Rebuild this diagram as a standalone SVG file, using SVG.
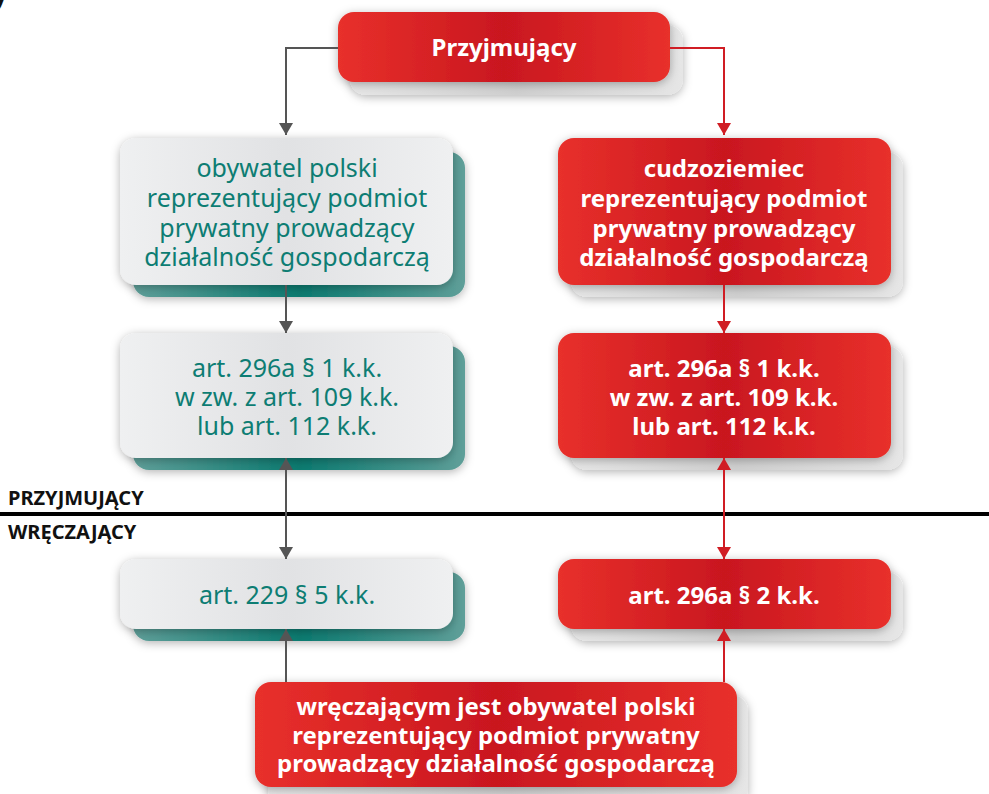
<svg xmlns="http://www.w3.org/2000/svg" width="989" height="794" viewBox="0 0 989 794">
<defs>
<linearGradient id="red" x1="0" y1="0" x2="1" y2="0">
<stop offset="0" stop-color="#e8302b"/><stop offset="0.5" stop-color="#c9171f"/><stop offset="1" stop-color="#e8302b"/>
</linearGradient>
<linearGradient id="grey" x1="0" y1="0" x2="1" y2="0">
<stop offset="0" stop-color="#eff0f1"/><stop offset="0.5" stop-color="#e1e2e4"/><stop offset="1" stop-color="#eff0f1"/>
</linearGradient>
<linearGradient id="teal" x1="0" y1="0" x2="1" y2="0">
<stop offset="0" stop-color="#5f9f99"/><stop offset="0.5" stop-color="#0b7a70"/><stop offset="1" stop-color="#5f9f99"/>
</linearGradient>
<linearGradient id="shadowgrey" x1="0" y1="0" x2="1" y2="0">
<stop offset="0" stop-color="#e6e6e6"/><stop offset="0.5" stop-color="#cfcfcf"/><stop offset="1" stop-color="#e6e6e6"/>
</linearGradient>
<filter id="ds" x="-20%" y="-30%" width="140%" height="160%">
<feDropShadow dx="0" dy="2" stdDeviation="5" flood-color="#000" flood-opacity="0.3"/>
</filter>
<marker id="ag" viewBox="0 0 12 14" refX="12" refY="7" markerWidth="12" markerHeight="14" markerUnits="userSpaceOnUse" orient="auto-start-reverse">
<path d="M0,0 L12,7 L0,14 Z" fill="#555"/>
</marker>
<marker id="ar" viewBox="0 0 12 14" refX="12" refY="7" markerWidth="12" markerHeight="14" markerUnits="userSpaceOnUse" orient="auto-start-reverse">
<path d="M0,0 L12,7 L0,14 Z" fill="#d01d24"/>
</marker>
</defs>
<style>
.t{font-family:"Noto Sans","Open Sans","Liberation Sans",sans-serif;text-anchor:middle;}
.tl{fill:#0d7d73;font-size:25px;}
.tr{fill:#fff;font-size:24px;font-weight:bold;}
.lab{font-family:"Noto Sans","Liberation Sans",sans-serif;font-weight:bold;font-size:20px;fill:#111;}
.cg{stroke:#555;stroke-width:2;fill:none;}
.cr{stroke:#d01d24;stroke-width:2;fill:none;}
</style>
<rect width="989" height="794" fill="#fff"/>
<text x="-12" y="3" class="lab" style="font-size:40px">y</text>

<g id="divider">
<line x1="0" y1="514" x2="989" y2="514" stroke="#000" stroke-width="4"/>
<text x="8" y="505" class="lab">PRZYJMUJĄCY</text>
<text x="8" y="539" class="lab">WRĘCZAJĄCY</text>
</g>

<g id="przyjmujacy">
<rect x="350" y="25" width="333" height="70" rx="16" fill="url(#shadowgrey)" filter="url(#ds)"/>
<rect x="338" y="12" width="332" height="70" rx="16" fill="url(#red)" filter="url(#ds)"/>
<text x="504" y="56" class="t tr">Przyjmujący</text>
</g>

<g id="obywatel">
<rect x="133" y="152" width="332" height="145" rx="16" fill="url(#teal)" filter="url(#ds)"/>
<rect x="120" y="138" width="333" height="147" rx="16" fill="url(#grey)" filter="url(#ds)"/>
<text class="t tl"><tspan x="287" y="177">obywatel polski</tspan><tspan x="287" y="207">reprezentujący podmiot</tspan><tspan x="287" y="237">prywatny prowadzący</tspan><tspan x="287" y="266">działalność gospodarczą</tspan></text>
</g>

<g id="cudzoziemiec">
<rect x="571" y="152" width="332" height="145" rx="16" fill="url(#shadowgrey)" filter="url(#ds)"/>
<rect x="558" y="138" width="333" height="147" rx="16" fill="url(#red)" filter="url(#ds)"/>
<text class="t tr"><tspan x="724" y="177">cudzoziemiec</tspan><tspan x="724" y="207">reprezentujący podmiot</tspan><tspan x="724" y="237">prywatny prowadzący</tspan><tspan x="724" y="266">działalność gospodarczą</tspan></text>
</g>

<g id="art296a1-left">
<rect x="133" y="346" width="332" height="124" rx="16" fill="url(#teal)" filter="url(#ds)"/>
<rect x="120" y="333" width="333" height="125" rx="16" fill="url(#grey)" filter="url(#ds)"/>
<text class="t tl"><tspan x="287" y="377">art. 296a § 1 k.k.</tspan><tspan x="287" y="406">w zw. z art. 109 k.k.</tspan><tspan x="287" y="435">lub art. 112 k.k.</tspan></text>
</g>

<g id="art296a1-right">
<rect x="571" y="346" width="332" height="124" rx="16" fill="url(#shadowgrey)" filter="url(#ds)"/>
<rect x="558" y="333" width="333" height="125" rx="16" fill="url(#red)" filter="url(#ds)"/>
<text class="t tr"><tspan x="724" y="377">art. 296a § 1 k.k.</tspan><tspan x="724" y="406">w zw. z art. 109 k.k.</tspan><tspan x="724" y="435">lub art. 112 k.k.</tspan></text>
</g>

<g id="art229">
<rect x="133" y="572" width="332" height="69" rx="16" fill="url(#teal)" filter="url(#ds)"/>
<rect x="120" y="559" width="333" height="70" rx="16" fill="url(#grey)" filter="url(#ds)"/>
<text x="287" y="604" class="t tl">art. 229 § 5 k.k.</text>
</g>

<g id="art296a2">
<rect x="571" y="572" width="332" height="69" rx="16" fill="url(#shadowgrey)" filter="url(#ds)"/>
<rect x="558" y="559" width="333" height="70" rx="16" fill="url(#red)" filter="url(#ds)"/>
<text x="724" y="604" class="t tr">art. 296a § 2 k.k.</text>
</g>

<g id="wreczajacy">
<rect x="268" y="695" width="480" height="110" rx="16" fill="url(#shadowgrey)" filter="url(#ds)"/>
<rect x="255" y="682" width="482" height="105" rx="16" fill="url(#red)" filter="url(#ds)"/>
<text class="t tr"><tspan x="496" y="715">wręczającym jest obywatel polski</tspan><tspan x="496" y="744">reprezentujący podmiot prywatny</tspan><tspan x="496" y="772">prowadzący działalność gospodarczą</tspan></text>
</g>

<g id="connectors">
<path class="cg" d="M338,48 H286 V135" marker-end="url(#ag)"/>
<path class="cr" d="M670,48 H724 V135" marker-end="url(#ar)"/>
<path class="cg" d="M286,285 V333" marker-end="url(#ag)"/>
<path class="cr" d="M724,285 V333" marker-end="url(#ar)"/>
<path class="cg" d="M286,458 V559" marker-start="url(#ag)" marker-end="url(#ag)"/>
<path class="cr" d="M724,458 V559" marker-start="url(#ar)" marker-end="url(#ar)"/>
<path class="cg" d="M286,682 V629" marker-end="url(#ag)"/>
<path class="cr" d="M724,682 V629" marker-end="url(#ar)"/>
</g>
</svg>
